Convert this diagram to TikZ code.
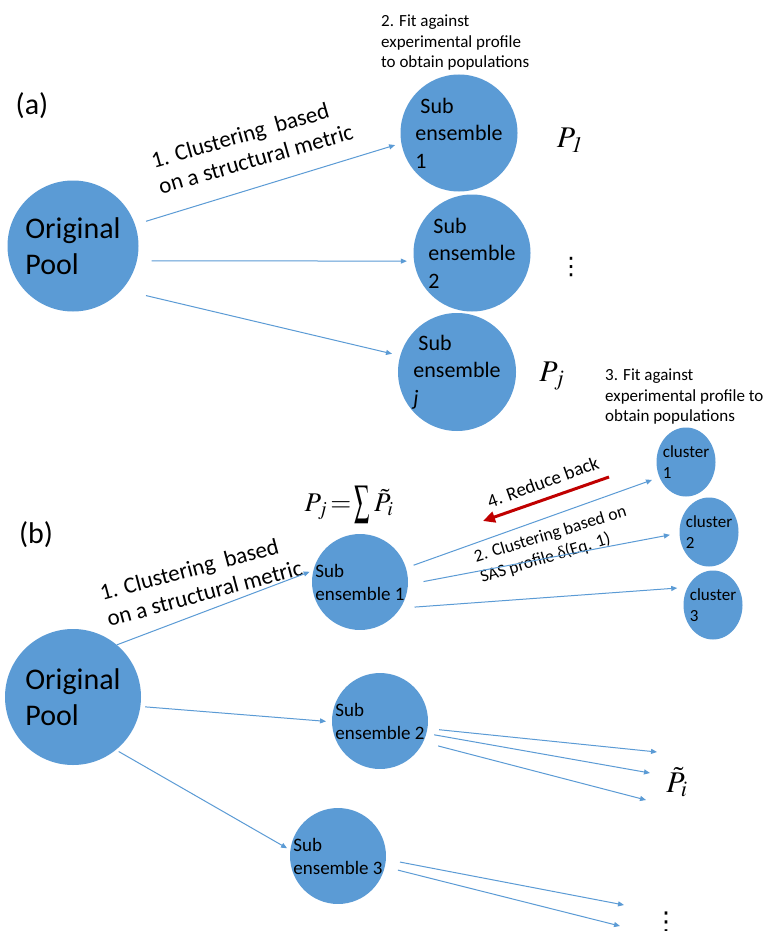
\documentclass[tikz,border=0pt]{standalone}
\usepackage{amsmath}
\usepackage{graphicx}
\usepackage{mathptmx}
\usepackage[no-math]{fontspec}
\setmainfont{Carlito}
\newfontfamily\dotsfont{DejaVu Sans}
\newfontfamily\deltafont{Liberation Serif}
\definecolor{poolblue}{RGB}{91,155,213}
\definecolor{backred}{RGB}{192,0,0}
\usetikzlibrary{arrows.meta,shapes.geometric}

\begin{document}
\begin{tikzpicture}[x=1pt,y=-1pt,
    pool/.style={circle,fill=poolblue,inner sep=0pt,outer sep=0pt,align=left},
    clusterbox/.style={ellipse,fill=poolblue,inner sep=-3pt,outer sep=0pt,minimum width=59pt,minimum height=69pt,align=left,font=\fontsize{17}{20.7}\selectfont},
    flow/.style={-{Triangle[length=6pt,width=5pt]},poolblue,line width=1pt},
    backflow/.style={-{Triangle[length=12pt,width=11pt]},backred,line width=3pt},
    note/.style={align=left,inner sep=0pt,font=\fontsize{17}{20.5}\selectfont},
    steplabel/.style={align=left,inner sep=0pt,font=\fontsize{23}{27}\selectfont},
    popul/.style={inner sep=0pt,font=\fontsize{30}{36}\selectfont},
    vdotsnode/.style={inner sep=0pt,font=\dotsfont\fontsize{24}{28}\selectfont},
    tag/.style={inner sep=0pt,font=\fontsize{30}{36}\selectfont}]
  \useasboundingbox (0,0) rectangle (766,931);
  \fill[white] (0,0) rectangle (766,931);
  \clip (0,0) rectangle (766,931);

  % (a) one level of clustering
  \node[tag] (tagA) at (32,106) {(a)};
  \node[pool,minimum size=131pt,font=\fontsize{30}{36}\selectfont] (poolA) at (73,246) {Original\\Pool};
  \node[pool,minimum size=117pt,font=\fontsize{22}{27.5}\selectfont] (subA1) at (459,133) {\hspace*{5pt}Sub\\ensemble\\1};
  \node[pool,minimum size=117pt,font=\fontsize{22}{27.5}\selectfont] (subA2) at (472,253) {\hspace*{5pt}Sub\\ensemble\\2};
  \node[pool,minimum size=118pt,font=\fontsize{22}{27.5}\selectfont] (subAj) at (457,372) {\hspace*{5pt}Sub\\ensemble\\\textit{j}};
  \node[note,anchor=north west] (fitA) at (381,15) {2. Fit against\\experimental profile\\to obtain populations};
  \node[steplabel,rotate=16] (clusA) at (252,146) {1. Clustering\ \ based\\on a structural metric};
  \node[popul] (pA1) at (570,140) {$P_{\mathit{1}}$};
  \node[vdotsnode] (dotsA) at (571,267) {⋮};
  \node[popul] (pAj) at (552,376) {$P_j$};

  \draw[flow,shorten <=11.6pt,shorten >=6.6pt] (poolA.19.9) -- (subA1.190.6);
  \draw[flow,shorten <=14.7pt,shorten >=7.2pt] (poolA.-13) -- (subA2.188.7);
  \draw[flow,shorten <=25pt,shorten >=8.5pt] (poolA.-42.9) -- (subAj.164.2);

  % (b) two levels of clustering
  \node[tag] (tagB) at (36,535) {(b)};
  \node[pool,minimum size=136pt,font=\fontsize{30}{36}\selectfont] (poolB) at (73,697) {Original\\Pool};
  \node[pool,minimum size=95pt,font=\fontsize{19}{23}\selectfont] (subB1) at (360,582) {Sub\\ensemble 1};
  \node[pool,minimum size=95pt,font=\fontsize{19}{23}\selectfont] (subB2) at (380,721) {Sub\\ensemble 2};
  \node[pool,minimum size=95pt,font=\fontsize{19}{23}\selectfont] (subB3) at (338,856) {Sub\\ensemble 3};
  \node[clusterbox] (clu1) at (686,462) {cluster\\1};
  \node[clusterbox] (clu2) at (709,532) {cluster\\2};
  \node[clusterbox] (clu3) at (713,605) {cluster\\3};
  \node[note,anchor=north west] (fitB) at (605,369) {3. Fit against\\experimental profile to\\obtain populations};
  \node[steplabel,rotate=15] (clusB) at (201,580) {1. Clustering\ \ based\\on a structural metric};
  \node[note,rotate=17,font=\fontsize{17.5}{21.4}\selectfont] (sasB) at (553.5,545) {2. Clustering based on\\SAS profile {\deltafont δ}(Eq. 1)};
  \node[inner sep=0pt,rotate=20,font=\fontsize{19}{23}\selectfont] (reduceB) at (543,482) {4. Reduce back};
  \node[popul,font=\fontsize{27}{32}\selectfont] (sumB) at (349,505) {$P_j\mkern2mu{=}\mkern2mu\vcenter{\hbox{\scalebox{0.8}[1.6]{$\sum$}}}\mkern3mu\tilde{P}_i$};
  \node[popul] (ptB) at (677,782) {$\tilde{P}_i$};
  \node[vdotsnode,font=\dotsfont\fontsize{26}{30}\selectfont] (dotsB) at (666,922) {⋮};

  \coordinate (rbStart) at (609,477);
  \coordinate (rbEnd) at (483,521);
  \coordinate (ptEnd1) at (657,752);
  \coordinate (ptEnd2) at (650,773);
  \coordinate (ptEnd3) at (646,800);
  \coordinate (dotsEnd1) at (624,905);
  \coordinate (dotsEnd2) at (620,926);

  \draw[flow,shorten >=4pt] (poolB.50.8) -- (subB1.166.6);
  \draw[flow,shorten <=4.8pt,shorten >=6pt] (poolB.-8.1) -- (subB2.181.8);
  \draw[flow,shorten <=3.3pt,shorten >=3.8pt] (poolB.-51.7) -- (subB3.173.8);

  \draw[flow,shorten <=8.2pt,shorten >=8pt] (subB1.17.5) -- (clu1.210);
  \draw[flow,shorten <=15.9pt,shorten >=9.8pt] (subB1.-3.6) -- (clu2.182.3);
  \draw[flow,shorten <=14.3pt,shorten >=10.5pt] (subB1.-33.2) -- (clu3.145);
  \draw[backflow] (rbStart) -- (rbEnd);

  \draw[flow,shorten <=11.7pt] (subB2.-9.5) -- (ptEnd1);
  \draw[flow,shorten <=7.9pt] (subB2.-15.5) -- (ptEnd2);
  \draw[flow,shorten <=15.5pt] (subB2.-26.7) -- (ptEnd3);
  \draw[flow,shorten <=14.4pt] (subB3.-4) -- (dotsEnd1);
  \draw[flow,shorten <=13.6pt] (subB3.-13.2) -- (dotsEnd2);
\end{tikzpicture}
\end{document}
